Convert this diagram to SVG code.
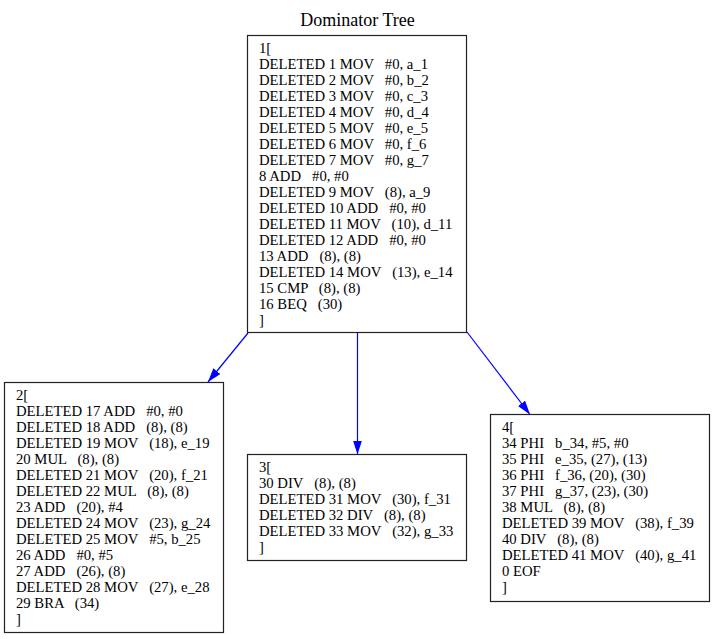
<svg xmlns="http://www.w3.org/2000/svg" width="715" height="639" viewBox="0 0 715 639">
<style>
text{font-family:"Liberation Serif","Times New Roman",serif;fill:#000;white-space:pre}
.t{font-size:14.7px}
.title{font-size:18px}
.box{fill:#fff;stroke:#222;stroke-width:1.2}
.edge{stroke:#0000ff;stroke-width:1.2;fill:none}
</style>
<defs>
<marker id="ah" markerUnits="userSpaceOnUse" markerWidth="15" markerHeight="10" refX="14" refY="4.5" orient="auto">
<path d="M0,0 L14,4.5 L0,9 z" fill="#0000ff"/>
</marker>
</defs>
<rect width="715" height="639" fill="#fff"/>
<text class="title" x="357.5" y="26" text-anchor="middle">Dominator Tree</text>
<g id="edges">
<line class="edge" x1="248" y1="333" x2="208" y2="382" marker-end="url(#ah)"/>
<line class="edge" x1="357.5" y1="333" x2="357.5" y2="454.5" marker-end="url(#ah)"/>
<line class="edge" x1="467" y1="332" x2="530" y2="414.5" marker-end="url(#ah)"/>
</g>
<g id="node1">
<rect class="box" x="247.5" y="35.5" width="219" height="297"/>
<text class="t" x="259" y="53">1[<tspan x="259" dy="16">DELETED 1 MOV   #0, a_1</tspan><tspan x="259" dy="16">DELETED 2 MOV   #0, b_2</tspan><tspan x="259" dy="16">DELETED 3 MOV   #0, c_3</tspan><tspan x="259" dy="16">DELETED 4 MOV   #0, d_4</tspan><tspan x="259" dy="16">DELETED 5 MOV   #0, e_5</tspan><tspan x="259" dy="16">DELETED 6 MOV   #0, f_6</tspan><tspan x="259" dy="16">DELETED 7 MOV   #0, g_7</tspan><tspan x="259" dy="16">8 ADD   #0, #0</tspan><tspan x="259" dy="16">DELETED 9 MOV   (8), a_9</tspan><tspan x="259" dy="16">DELETED 10 ADD   #0, #0</tspan><tspan x="259" dy="16">DELETED 11 MOV   (10), d_11</tspan><tspan x="259" dy="16">DELETED 12 ADD   #0, #0</tspan><tspan x="259" dy="16">13 ADD   (8), (8)</tspan><tspan x="259" dy="16">DELETED 14 MOV   (13), e_14</tspan><tspan x="259" dy="16">15 CMP   (8), (8)</tspan><tspan x="259" dy="16">16 BEQ   (30)</tspan><tspan x="259" dy="16">]</tspan></text>
</g>
<g id="node2">
<rect class="box" x="4.5" y="382.5" width="219" height="250"/>
<text class="t" x="16" y="400">2[<tspan x="16" dy="16">DELETED 17 ADD   #0, #0</tspan><tspan x="16" dy="16">DELETED 18 ADD   (8), (8)</tspan><tspan x="16" dy="16">DELETED 19 MOV   (18), e_19</tspan><tspan x="16" dy="16">20 MUL   (8), (8)</tspan><tspan x="16" dy="16">DELETED 21 MOV   (20), f_21</tspan><tspan x="16" dy="16">DELETED 22 MUL   (8), (8)</tspan><tspan x="16" dy="16">23 ADD   (20), #4</tspan><tspan x="16" dy="16">DELETED 24 MOV   (23), g_24</tspan><tspan x="16" dy="16">DELETED 25 MOV   #5, b_25</tspan><tspan x="16" dy="16">26 ADD   #0, #5</tspan><tspan x="16" dy="16">27 ADD   (26), (8)</tspan><tspan x="16" dy="16">DELETED 28 MOV   (27), e_28</tspan><tspan x="16" dy="16">29 BRA   (34)</tspan><tspan x="16" dy="16">]</tspan></text>
</g>
<g id="node3">
<rect class="box" x="247.5" y="454.5" width="219" height="106"/>
<text class="t" x="259" y="472">3[<tspan x="259" dy="16">30 DIV   (8), (8)</tspan><tspan x="259" dy="16">DELETED 31 MOV   (30), f_31</tspan><tspan x="259" dy="16">DELETED 32 DIV   (8), (8)</tspan><tspan x="259" dy="16">DELETED 33 MOV   (32), g_33</tspan><tspan x="259" dy="16">]</tspan></text>
</g>
<g id="node4">
<rect class="box" x="490.5" y="414.5" width="219" height="187"/>
<text class="t" x="502" y="432">4[<tspan x="502" dy="16">34 PHI   b_34, #5, #0</tspan><tspan x="502" dy="16">35 PHI   e_35, (27), (13)</tspan><tspan x="502" dy="16">36 PHI   f_36, (20), (30)</tspan><tspan x="502" dy="16">37 PHI   g_37, (23), (30)</tspan><tspan x="502" dy="16">38 MUL   (8), (8)</tspan><tspan x="502" dy="16">DELETED 39 MOV   (38), f_39</tspan><tspan x="502" dy="16">40 DIV   (8), (8)</tspan><tspan x="502" dy="16">DELETED 41 MOV   (40), g_41</tspan><tspan x="502" dy="16">0 EOF</tspan><tspan x="502" dy="16">]</tspan></text>
</g>
</svg>
